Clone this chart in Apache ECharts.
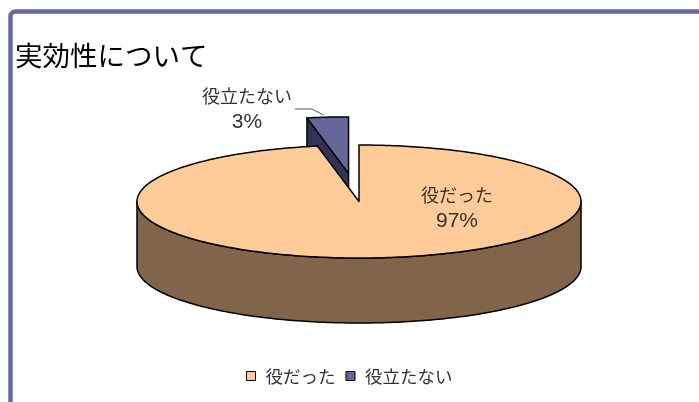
<!DOCTYPE html>
<html><head><meta charset="utf-8">
<script src="https://cdn.jsdelivr.net/npm/echarts@6/dist/echarts.min.js"></script>
<style>html,body{margin:0;padding:0;background:#fff}#c{width:699px;height:402px}</style>
</head><body><div id="c"></div>
<script>
// ---- data ----
const titleText = '実効性について';
const categories = ['役だった', '役立たない'];
const values = [97, 3];
const percentLabels = ['97%', '3%'];

// ---- style / layout ----
const FONT = '"Noto Sans CJK JP", "Noto Sans", sans-serif';
const NUMFONT = '"Liberation Sans", sans-serif';
const topColors = ['#FFCC99', '#666699'];
const sideColors = ['#80654B', '#333355'];
const explodeK = [0, 0.5];
const seriesZ = [3, 2];
const geo = { cx: 359, cy: 201.5, rx: 222, ry: 56.5, depth: 65 };
const labelOffset = [[98, 6.5], [-112, -92.5]];

const DEG = Math.PI / 180;
function total() { return values.reduce((a, b) => a + b, 0); }

function makeRender(i) {
  return function (params, api) {
    const v = api.value(0);
    const tot = total();
    let before = 0;
    for (let j = 0; j < i; j++) before += values[j];
    const ts = before / tot * 360;
    const te = ts + v / tot * 360;
    const mid = (ts + te) / 2;
    const k = explodeK[i];
    const ox = k * geo.rx * Math.sin(mid * DEG);
    const oy = -k * geo.ry * Math.cos(mid * DEG);
    const cx = geo.cx + ox, cy = geo.cy + oy, d = geo.depth;
    const P = (t, dz) => [cx + geo.rx * Math.sin(t * DEG), cy - geo.ry * Math.cos(t * DEG) + (dz || 0)];
    const arc = (a, b, dz) => {
      const pts = [];
      const n = Math.max(2, Math.ceil(Math.abs(b - a) / 1));
      for (let s = 0; s <= n; s++) pts.push(P(a + (b - a) * s / n, dz));
      return pts;
    };
    const stroke = { stroke: '#000', lineWidth: 1.5, lineJoin: 'round' };
    const children = [];
    if (Math.sin(ts * DEG) < -1e-6) {
      children.push({ type: 'polygon', shape: { points: [[cx, cy], P(ts), P(ts, d), [cx, cy + d]] },
        style: Object.assign({ fill: sideColors[i] }, stroke) });
    }
    if (Math.sin(te * DEG) > 1e-6) {
      children.push({ type: 'polygon', shape: { points: [[cx, cy], P(te), P(te, d), [cx, cy + d]] },
        style: Object.assign({ fill: sideColors[i] }, stroke) });
    }
    const a = Math.max(ts, 90), b = Math.min(te, 270);
    if (b > a) {
      const pts = arc(a, b, 0).concat(arc(b, a, d));
      children.push({ type: 'polygon', shape: { points: pts }, style: Object.assign({ fill: sideColors[i] }, stroke) });
    }
    const topPts = [[cx, cy]].concat(arc(ts, te, 0));
    children.push({ type: 'polygon', shape: { points: topPts }, style: Object.assign({ fill: topColors[i] }, stroke) });
    const lx = geo.cx + labelOffset[i][0], ly = geo.cy + labelOffset[i][1];
    children.push({ type: 'text', x: lx, y: ly, style: {
      text: '{a|' + categories[i] + '}\n{b|' + percentLabels[i] + '}',
      align: 'center', verticalAlign: 'middle',
      rich: {
        a: { fill: '#333', fontFamily: FONT, fontSize: 18, lineHeight: 26, align: 'center' },
        b: { fill: '#333', fontFamily: NUMFONT, fontSize: 21, lineHeight: 26, align: 'center' }
      } } });
    if (i === 1) {
      const end = P(mid);
      children.push({ type: 'polyline', shape: { points: [[lx + 48, ly], [lx + 65, ly], [end[0] - 4, end[1] - 2]] },
        style: { stroke: '#555', lineWidth: 1, fill: null } });
    }
    return { type: 'group', children };
  };
}

const chart = echarts.init(document.getElementById('c'), null, { renderer: 'canvas' });
chart.setOption({
  animation: false,
  backgroundColor: '#fff',
  title: { text: titleText, left: 15, top: 42, padding: 0,
    textStyle: { fontSize: 27.5, fontWeight: 'normal', color: '#000', fontFamily: FONT, lineHeight: 28 } },
  legend: { data: categories, left: 246, top: 367, itemWidth: 9, itemHeight: 9, itemGap: 10, icon: 'rect',
    itemStyle: { borderColor: '#000', borderWidth: 1 }, padding: 0,
    textStyle: { fontFamily: FONT, fontSize: 17.5, color: '#333', lineHeight: 18, padding: [0, 0, 0, 5] } },
  graphic: [{ type: 'rect', z: 100, shape: { x: 10.5, y: 11.5, width: 760, height: 460, r: 5 },
    style: { fill: 'none', stroke: '#6A6AA2', lineWidth: 4.5 } }],
  series: categories.map((name, i) => ({
    type: 'custom', name, coordinateSystem: 'none', z: seriesZ[i],
    itemStyle: { color: topColors[i] },
    data: [{ name, value: [values[i]] }],
    renderItem: makeRender(i)
  }))
});
</script></body></html>
